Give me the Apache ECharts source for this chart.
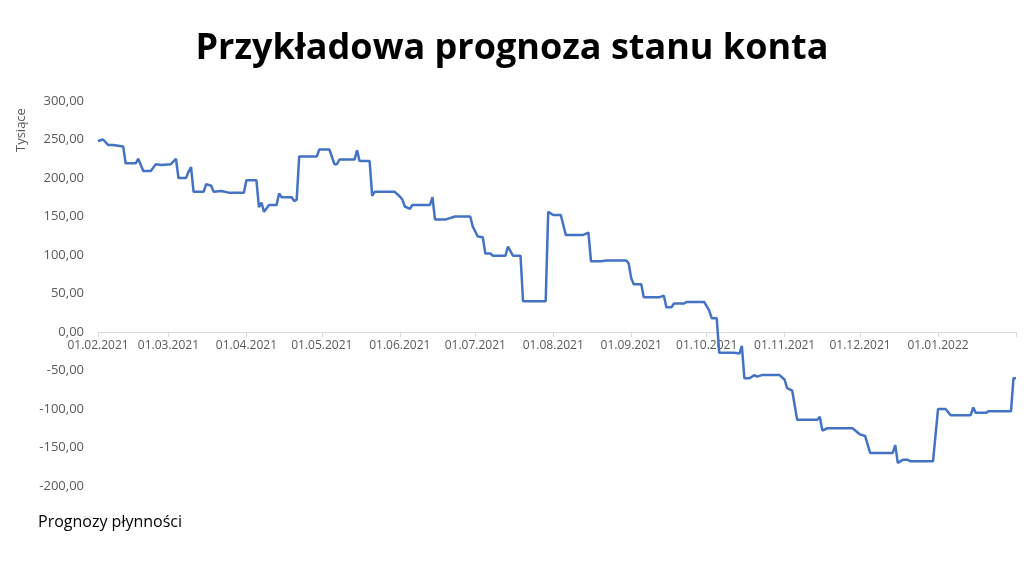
<!DOCTYPE html>
<html>
<head>
<meta charset="utf-8">
<script src="https://cdn.jsdelivr.net/npm/echarts@6/dist/echarts.min.js"></script>
<style>html,body{margin:0;padding:0;background:#fff}#chart{width:1024px;height:568px}</style>
</head>
<body>
<div id="chart"></div>
<script>
// dni od 01.02.2021 i saldo w tysiącach
var startDate = '2021-02-01';
var endDate = '2022-02-01';
var dayOffsets = [0,2,4,6,10,11,15,16,18,21,23,25,29,31,32,35,36,37,38,42,43,45,46,49,52,58,59,63,64,65,66,68,71,72,73,77,78,79,80,87,88,92,94,95,96,102,103,104,108,109,110,118,120,121,122,124,125,132,133,134,138,142,148,149,151,153,154,156,157,162,163,165,168,169,178,179,181,184,186,193,195,196,200,202,210,211,212,213,216,217,223,225,226,228,229,233,234,241,243,244,246,247,253,255,256,257,259,261,262,264,271,273,274,276,278,286,287,288,290,300,303,305,307,316,317,318,320,322,323,332,334,337,339,347,348,349,353,354,363,364,365];
var balance = [248,250,243,243,241,219,219,225,209,209,218,217,218,225,200,200,208,214,182,182,192,190,182,183,181,181,197,197,162,168,156,165,165,180,175,175,170,172,228,228,237,237,218,218,224,224,236,222,222,177,182,182,176,172,163,160,165,165,175,146,146,150,150,137,124,123,102,102,99,99,111,99,99,40,40,156,152,152,126,126,129,92,92,93,93,89,70,62,62,45,45,47,32,32,37,37,39,39,28,18,18,-27,-27,-28,-18,-60,-60,-56,-58,-56,-56,-62,-73,-76,-114,-114,-110,-128,-125,-125,-133,-135,-157,-157,-147,-170,-166,-166,-168,-168,-100,-100,-108,-108,-98,-105,-105,-103,-103,-60,-60];

var t0 = new Date(startDate + 'T00:00:00Z').getTime();
var t1 = new Date(endDate + 'T00:00:00Z').getTime();
var seriesData = dayOffsets.map(function (d, i) { return [t0 + d * 86400000, balance[i]]; });

function pad(n){ return (n < 10 ? '0' : '') + n; }

var chart = echarts.init(document.getElementById('chart'));
chart.setOption({
    title: {
        text: 'Przykładowa prognoza stanu konta',
        left: 'center', top: 26,
        textStyle: { fontFamily: 'Open Sans', fontWeight: 'bold', fontSize: 36, color: '#000' }
    },
    graphic: [
        { type: 'text', left: 38, top: 514, style: { text: 'Prognozy płynności', fontFamily: 'Open Sans', fontSize: 16, fill: '#000' } },
        { type: 'text', x: 15, y: 152, rotation: Math.PI / 2, style: { text: 'Tysiące', fontFamily: 'Open Sans', fontSize: 13, fill: '#595959' } }
    ],
    grid: { left: 98, right: 8, top: 101, bottom: 82, outerBoundsMode: 'none' },
    xAxis: {
        type: 'time',
        min: t0,
        max: t1,
        splitNumber: 12,
        minInterval: 28 * 86400000,
        offset: -154,
        axisLine: { onZero: false, lineStyle: { color: '#d9d9d9' } },
        axisTick: { show: true, lineStyle: { color: '#d9d9d9' } },
        splitLine: { show: false },
        axisLabel: {
            color: '#595959', fontFamily: 'Open Sans', fontSize: 12, hideOverlap: false,
            formatter: function (v) {
                if (v >= t1) return '';
                var d = new Date(v);
                return pad(d.getUTCDate()) + '.' + pad(d.getUTCMonth() + 1) + '.' + d.getUTCFullYear();
            }
        }
    },
    yAxis: {
        type: 'value', min: -200, max: 300, interval: 50,
        axisLine: { show: false }, axisTick: { show: false },
        splitLine: { show: false },
        axisLabel: {
            color: '#595959', fontFamily: 'Open Sans', fontSize: 13, margin: 14,
            formatter: function (v) { return v.toFixed(2).replace('.', ','); }
        }
    },
    series: [{
        type: 'line', data: seriesData, showSymbol: false,
        lineStyle: { color: '#4472c4', width: 2.5 }
    }]
});
</script>
</body>
</html>
